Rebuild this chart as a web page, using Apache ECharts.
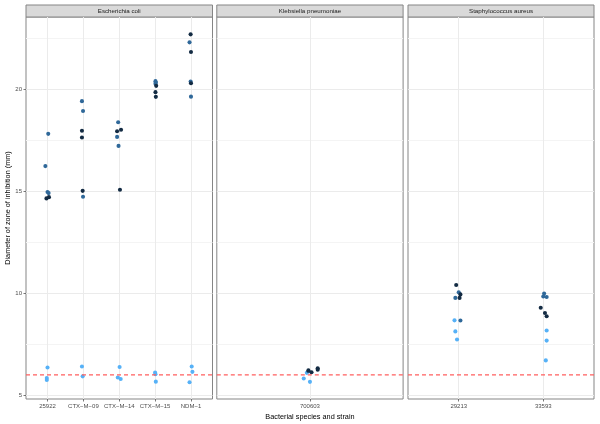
<!DOCTYPE html>
<html><head><meta charset="utf-8">
<script src="https://cdn.jsdelivr.net/npm/echarts@6/dist/echarts.min.js"></script>
<style>html,body{margin:0;padding:0;background:#fff}#c{width:600px;height:424px}</style>
</head><body><div id="c"></div>
<script>
const facets = ['Escherichia coli', 'Klebsiella pneumoniae', 'Staphylococcus aureus'];
const ecoliStrains = ['25922', 'CTX−M−09', 'CTX−M−14', 'CTX−M−15', 'NDM−1'];
const klebStrains = ['700603'];
const staphStrains = ['29213', '33593'];
const yTicks = [5, 10, 15, 20];
const yMinor = [7.5, 12.5, 17.5, 22.5];
const threshold = 6;
const xTitle = 'Bacterial species and strain';
const yTitle = 'Diameter of zone of inhibition (mm)';

// each point: [strain number (1-based), horizontal jitter, diameter in mm]
const ecoliDark = [
  [1,-0.03,14.64],[1,0.04,14.70],
  [2,-0.04,17.95],[2,-0.04,17.62],[2,-0.02,15.01],
  [3,-0.06,17.93],[3,0.05,18.00],[3,0.02,15.06],
  [4,0.03,20.15],[4,0.01,19.84],[4,0.02,19.61],
  [5,-0.01,22.67],[5,0.0,21.81],[5,0.0,20.28]
];
const ecoliMid = [
  [1,0.02,17.80],[1,-0.06,16.22],[1,0.0,14.95],[1,0.03,14.90],
  [2,-0.04,19.40],[2,-0.01,18.92],[2,-0.01,14.72],
  [3,-0.03,18.37],[3,-0.06,17.65],[3,-0.02,17.21],
  [4,0.01,20.38],[4,0.02,20.31],[4,0.01,20.25],
  [5,-0.04,22.28],[5,-0.01,20.36],[5,0.0,19.62]
];
const ecoliLight = [
  [1,0.0,6.36],[1,-0.02,5.85],[1,-0.02,5.75],
  [2,-0.04,6.41],[2,-0.02,5.93],
  [3,0.01,6.39],[3,-0.04,5.87],[3,0.04,5.80],
  [4,0.0,6.11],[4,0.01,6.03],[4,0.02,5.67],
  [5,0.02,6.41],[5,0.04,6.15],[5,-0.04,5.64]
];
const klebDark = [[1,-0.01,6.22],[1,0.01,6.13],[1,0.05,6.32],[1,0.05,6.25]];
const klebMid = [[1,-0.01,6.18]];
const klebLight = [[1,-0.02,6.10],[1,-0.04,5.82],[1,0.0,5.66]];
const staphDark = [
  [1,-0.03,10.40],[1,0.02,9.94],[1,0.01,9.77],
  [2,-0.03,9.29],[2,0.02,9.03],[2,0.04,8.87]
];
const staphMid = [
  [1,0.0,10.04],[1,-0.04,9.77],[1,0.02,8.66],
  [2,0.01,9.98],[2,0.0,9.84],[2,0.04,9.81]
];
const staphLight = [
  [1,-0.05,8.67],[1,-0.04,8.13],[1,-0.02,7.73],
  [2,0.04,8.17],[2,0.04,7.68],[2,0.03,6.71]
];

const colDark = '#132B43', colMid = '#2F6899', colLight = '#56B1F7';
const panels = [
  {cats: ecoliStrains, dark: ecoliDark, mid: ecoliMid, light: ecoliLight, left: 26, width: 186.5},
  {cats: klebStrains, dark: klebDark, mid: klebMid, light: klebLight, left: 216.8, width: 186.3},
  {cats: staphStrains, dark: staphDark, mid: staphMid, light: staphLight, left: 408, width: 186}
];
const panelTop = 17, panelHeight = 382, yMin = 4.82, yMax = 23.52;

const grid = [], xAxis = [], yAxis = [], series = [], graphic = [];
panels.forEach((p, i) => {
  grid.push({left: p.left, top: panelTop, width: p.width, height: panelHeight, show: true,
    containLabel: false, outerBoundsMode: 'none',
    backgroundColor: '#fff', borderColor: '#858585', borderWidth: 1});
  const idx = p.cats.map((c, k) => k + 1);
  const xMin = 0.4, xMax = p.cats.length + 0.6;
  xAxis.push({
    gridIndex: i, type: 'value', min: xMin, max: xMax,
    axisLine: {show: false},
    axisTick: {show: true, customValues: idx, length: 2.5, lineStyle: {color: '#555', width: 0.8}},
    axisLabel: {show: true, customValues: idx, margin: 4, fontSize: 6, color: '#4d4d4d',
      fontFamily: 'Liberation Sans', formatter: v => p.cats[Math.round(v) - 1]},
    splitLine: {show: true, lineStyle: {color: '#ebebeb', width: 1}},
    name: i === 1 ? xTitle : '', nameLocation: 'middle', nameGap: 11,
    nameTextStyle: {fontSize: 7.3, color: '#000', fontFamily: 'Liberation Sans'}
  });
  yAxis.push({
    gridIndex: i, type: 'value', min: yMin, max: yMax,
    axisLine: {show: false},
    axisTick: {show: i === 0, customValues: yTicks, length: 2.5, lineStyle: {color: '#555', width: 0.8}},
    axisLabel: {show: i === 0, customValues: yTicks, margin: 4, fontSize: 6, color: '#4d4d4d',
      fontFamily: 'Liberation Sans'},
    splitLine: {show: true, lineStyle: {color: '#ebebeb', width: 1}},
    name: i === 0 ? yTitle : '', nameLocation: 'middle', nameGap: 12,
    nameTextStyle: {fontSize: 7.3, color: '#000', fontFamily: 'Liberation Sans'}
  });
  yAxis.push({
    gridIndex: i, type: 'value', min: yMin, max: yMax,
    axisLine: {show: false},
    axisTick: {show: false, customValues: yMinor},
    axisLabel: {show: false, customValues: yMinor},
    splitLine: {show: true, lineStyle: {color: '#f4f4f4', width: 1}}
  });
  const mk = arr => arr.map(d => [d[0] + d[1], d[2]]);
  [[p.light, colLight], [p.mid, colMid], [p.dark, colDark]].forEach(([arr, col]) => {
    series.push({
      type: 'scatter', xAxisIndex: i, yAxisIndex: i * 2, data: mk(arr),
      symbol: 'circle', symbolSize: 4.1, itemStyle: {color: col, opacity: 1},
      silent: true, z: 3
    });
  });
  series.push({
    type: 'line', xAxisIndex: i, yAxisIndex: i * 2,
    data: [[xMin, threshold], [xMax, threshold]],
    showSymbol: false, symbol: 'none', silent: true, z: 4,
    lineStyle: {color: '#FF5F5F', type: [4, 3], width: 1.4}
  });
  graphic.push({type: 'rect', shape: {x: p.left, y: 5, width: p.width, height: 12},
    style: {fill: '#d9d9d9', stroke: '#858585', lineWidth: 1}});
  graphic.push({type: 'text', x: p.left + p.width / 2, y: 11,
    style: {text: facets[i], fill: '#1a1a1a', fontSize: 6.2, fontFamily: 'Liberation Sans',
      align: 'center', verticalAlign: 'middle'}});
});

const chart = echarts.init(document.getElementById('c'), null, {renderer: 'canvas'});
chart.setOption({animation: false, backgroundColor: '#fff', grid, xAxis, yAxis, series, graphic});
</script></body></html>
